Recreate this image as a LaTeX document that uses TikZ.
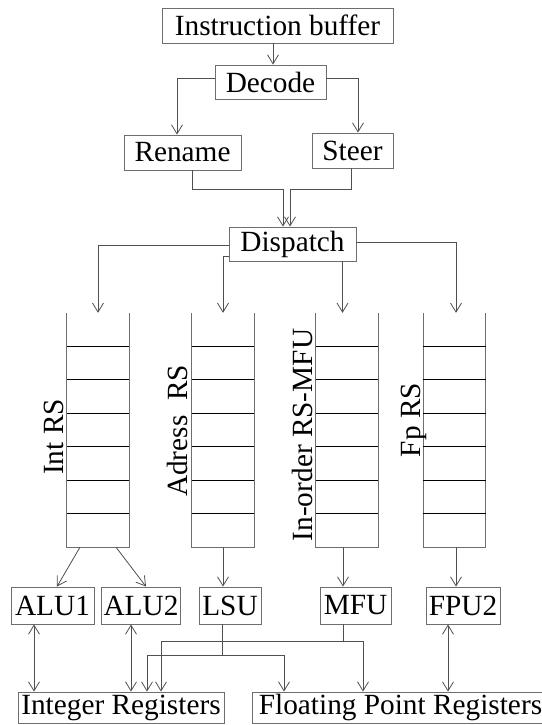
\documentclass[tikz,border=0pt]{standalone}
\usepackage{fontspec}
\setmainfont{LiberationSerif}[Extension=.ttf,UprightFont=*-Regular]
\usetikzlibrary{arrows.meta}
\definecolor{edge}{HTML}{6E6E6E}
\definecolor{wire}{HTML}{505050}
\begin{document}
\begin{tikzpicture}[x=1pt,y=1pt,
  box/.style={draw=edge,line width=0.9pt,inner sep=0pt,minimum height=35pt,
    font=\fontsize{29.3}{32}\selectfont,text=black},
  stackbox/.style={inner sep=0pt,minimum width=62pt,minimum height=234pt},
  lbl/.style={rotate=90,anchor=base,inner sep=0pt,font=\fontsize{29.3}{32}\selectfont},
  arr/.style={draw=wire,line width=0.8pt,-{Straight Barb[length=9pt,width=11pt]}},
  darr/.style={draw=wire,line width=0.8pt,{Straight Barb[length=9pt,width=11pt]}-{Straight Barb[length=9pt,width=11pt]}},
  wireline/.style={draw=wire,line width=0.8pt}]
\useasboundingbox (0,0) rectangle (541,-725);
\fill[white] (0,0) rectangle (541,-725);

% top boxes
\node[box,minimum width=231pt] (ib) at (277.5,-25.5) {Instruction buffer};
\node[box,minimum width=111pt,minimum height=34pt] (dec) at (270.5,-82) {Decode};
\node[box,minimum width=117pt] (ren) at (182.5,-152.5) {Rename};
\node[box,minimum width=81pt] (ste) at (352.5,-150.5) {Steer};
\node[box,minimum width=127pt,minimum height=34pt] (disp) at (292.5,-244) {Dispatch};

% stacks
\node[stackbox] (intrs) at (98,-430) {};
\node[stackbox] (adrs) at (223,-430) {};
\node[stackbox] (iors) at (347,-430) {};
\node[stackbox] (fprs) at (454.5,-430) {};
\foreach \s in {intrs,adrs,iors,fprs}{
  \draw[edge,line width=0.9pt] (\s.north west) -- (\s.south west) -- (\s.south east) -- (\s.north east);
  \foreach \k in {1,...,6}{
    \draw[black,line width=0.8pt] ([yshift=-\k*33.43pt]\s.north west) -- ([yshift=-\k*33.43pt]\s.north east);
  }
}
\node[lbl] (lint) at (63,-437) {Int RS};
\node[lbl] (ladr) at (187,-431) {Adress\ \ RS};
\node[lbl] (lio) at (312,-435) {In-order RS-MFU};
\node[lbl] (lfp) at (420,-420) {Fp RS};

% units
\node[box,minimum width=83pt,minimum height=37pt] (alu1) at (52.5,-605.5) {ALU1};
\node[box,minimum width=79pt,minimum height=37pt] (alu2) at (141,-605.5) {ALU2};
\node[box,minimum width=62pt,minimum height=37pt] (lsu) at (230,-605.5) {LSU};
\node[box,minimum width=71pt,minimum height=37pt] (mfu) at (355.5,-605.5) {MFU};
\node[box,minimum width=74pt,minimum height=37pt] (fpu) at (463,-605.5) {FPU2};

% registers
\node[box,minimum width=206pt,minimum height=31pt] (ir) at (121,-707.5) {Integer Registers};
\node[box,minimum width=297pt,minimum height=31pt] (fpr) at (400.5,-707.5) {Floating Point Registers};

% connectors top
\draw[arr] ([xshift=-4.5pt]ib.south) -- ([xshift=-4.5pt]ib.south |- dec.north);
\draw[arr] ([yshift=4pt]dec.west) -| ([xshift=-5.5pt]ren.north);
\draw[arr] ([yshift=4pt]dec.east) -| ([xshift=5.5pt]ste.north);
\draw[arr] ([xshift=9.5pt]ren.south) -- ++(0,-19pt) -| ([xshift=-9.5pt]disp.north);
\draw[arr] ([xshift=-1.5pt]ste.south) -- ++(0,-21pt) -| ([xshift=-2.5pt]disp.north);

% dispatch to stacks
\draw[arr] ([yshift=-1.5pt]disp.west) -| (intrs.north);
\draw[arr] ([yshift=-12.5pt]disp.west) -| (adrs.north);
\draw[arr] ([xshift=50pt]disp.south) -- ([xshift=50pt]disp.south |- iors.north);
\draw[arr] ([yshift=2pt]disp.east) -| ([xshift=1.5pt]fprs.north);

% stacks to units
\draw[arr] ([xshift=-18pt]intrs.south) -- ([xshift=4.5pt]alu1.north);
\draw[arr] ([xshift=18pt]intrs.south) -- ([xshift=5pt]alu2.north);
\draw[arr] (adrs.south) -- (adrs.south |- lsu.north);
\draw[arr] ([xshift=-4pt]iors.south) -- ([xshift=-4pt]iors.south |- mfu.north);
\draw[arr] ([xshift=1.5pt]fprs.south) -- ([xshift=1.5pt]fprs.south |- fpu.north);

% units to registers
\draw[darr] ([xshift=-18.5pt]alu1.south) -- ([xshift=-18.5pt]alu1.south |- ir.north);
\draw[darr] ([xshift=-10pt]alu2.south) -- ([xshift=-10pt]alu2.south |- ir.north);
\draw[darr] ([xshift=-15pt]fpu.south) -- ([xshift=-15pt]fpu.south |- fpr.north);

\draw[wireline] ([xshift=-8pt]lsu.south) -- ++(0,-31pt) coordinate (lsuj);
\draw[arr] (lsuj) -| ([xshift=26pt]ir.north);
\draw[arr] (lsuj) -| ([xshift=-116.5pt]fpr.north);

\draw[wireline] ([xshift=-12.5pt]mfu.south) -- ++(0,-17pt) coordinate (mfuj);
\draw[arr] (mfuj) -| ([xshift=40pt]ir.north);
\draw[arr] (mfuj) -| ([xshift=-37.5pt]fpr.north);
\end{tikzpicture}
\end{document}
